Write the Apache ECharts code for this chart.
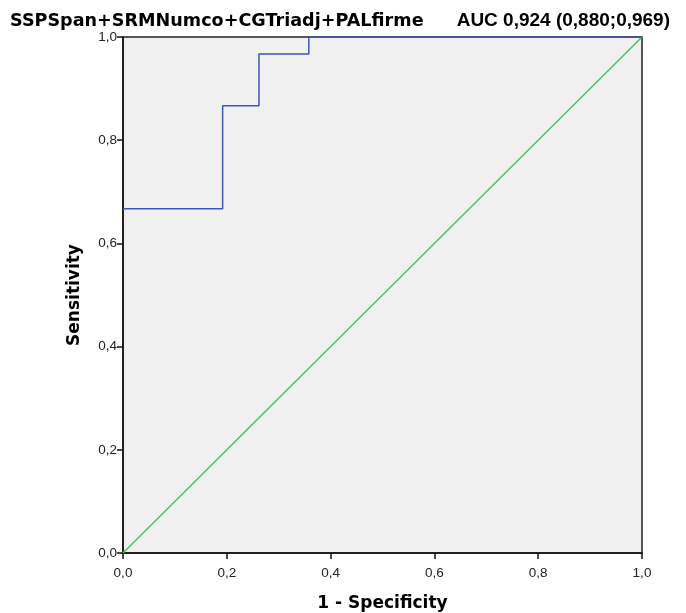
<!DOCTYPE html>
<html>
<head>
<meta charset="utf-8">
<script src="https://cdn.jsdelivr.net/npm/echarts@6/dist/echarts.min.js"></script>
<style>html,body{margin:0;padding:0;background:#fff;}#c{width:686px;height:613px;}</style>
</head>
<body>
<div id="c"></div>
<script>
const titleLeft = 'SSPSpan+SRMNumco+CGTriadj+PALfirme';
const titleRight = 'AUC 0,924 (0,880;0,969)';
const xName = '1 - Specificity';
const yName = 'Sensitivity';
const rocX = [0, 0.192, 0.262, 0.358, 1];
const rocY = [0.667, 0.867, 0.967, 1, 1];
const refX = [0, 1];
const refY = [0, 1];

const fmt = v => v.toFixed(1).replace('.', ',');
const chart = echarts.init(document.getElementById('c'), null, {renderer: 'canvas'});
const axisCommon = {
  type: 'value', min: 0, max: 1, interval: 0.2,
  axisLine: {show: true, onZero: false, lineStyle: {color: '#111', width: 1.5}},
  axisTick: {show: true, length: 6, inside: false, lineStyle: {color: '#111', width: 1.5}},
  splitLine: {show: false},
  axisLabel: {formatter: fmt, color: '#222', fontFamily: 'Liberation Sans', fontSize: 13.5},
  nameLocation: 'middle',
  nameTextStyle: {fontFamily: 'DejaVu Sans', fontWeight: 'bold', fontSize: 17, color: '#000'}
};
chart.setOption({
  animation: false,
  title: [
    {text: titleLeft, left: 10, top: 12, padding: 0,
     textStyle: {fontFamily: 'DejaVu Sans', fontWeight: 'bold', fontSize: 17.6, color: '#000'}},
    {text: titleRight, right: 16, top: 11, padding: 0,
     textStyle: {fontFamily: 'Liberation Sans', fontWeight: 'bold', fontSize: 19, color: '#000'}}
  ],
  grid: {left: 123, right: 44, top: 37, bottom: 60, containLabel: false, outerBoundsMode: 'none',
         show: true, backgroundColor: '#f0f0f0', borderColor: '#222', borderWidth: 1.5},
  xAxis: Object.assign({}, axisCommon, {name: xName, nameGap: 42, axisLabel: Object.assign({}, axisCommon.axisLabel, {margin: 13})}),
  yAxis: Object.assign({}, axisCommon, {name: yName, nameGap: 40, axisLabel: Object.assign({}, axisCommon.axisLabel, {margin: 6})}),
  series: [
    {type: 'line', data: refX.map((x, i) => [x, refY[i]]), symbol: 'none', lineStyle: {color: '#4cc45a', width: 1.5}},
    {type: 'line', step: 'end', data: rocX.map((x, i) => [x, rocY[i]]), symbol: 'none', lineStyle: {color: '#3e56b8', width: 1.5}}
  ]
});
</script>
</body>
</html>
